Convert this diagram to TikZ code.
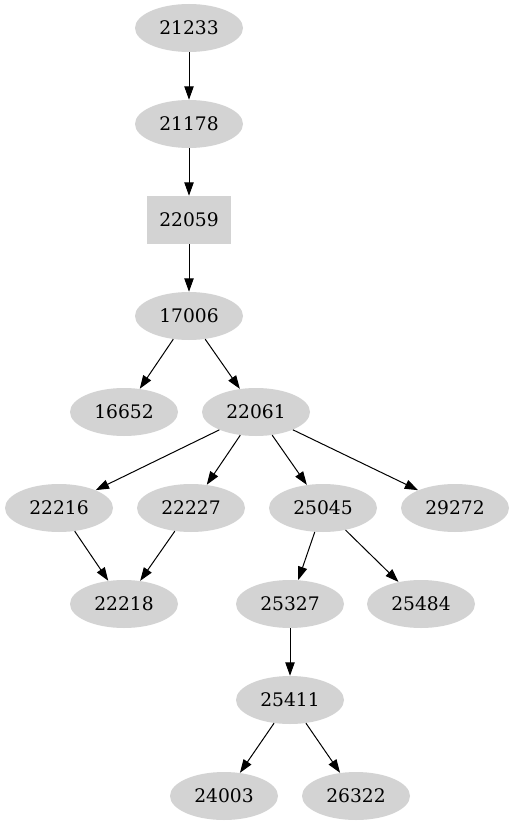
\documentclass[tikz,border=0pt]{standalone}
\usepackage{fontspec}
\setmainfont{DejaVu Serif}
\usetikzlibrary{arrows.meta,shapes.geometric}

\begin{document}
\begin{tikzpicture}[x=0.75pt,y=-0.75pt,
    vert/.style={ellipse,fill={rgb,255:red,211;green,211;blue,211},minimum width=81pt,minimum height=36pt,inner sep=0pt,font=\fontsize{14pt}{16pt}\selectfont},
    vbox/.style={vert,rectangle,minimum width=63pt},
    link/.style={line width=0.75pt,-{Triangle[length=10pt,width=7pt]}}]
      \useasboundingbox(0,0)rectangle(514,827);
      \node[vert](a21233) at (189,28){21233};
      \node[vert](a21178) at (189,124){21178};
      \node[vbox](a22059) at (189,220){22059};
      \node[vert](a17006) at (189,316){17006};
      \node[vert](a16652) at (124,412){16652};
      \node[vert](a22061) at (256,412){22061};
      \node[vert](a22216) at (59,508){22216};
      \node[vert](a22227) at (191,508){22227};
      \node[vert](a25045) at (323,508){25045};
      \node[vert](a29272) at (455,508){29272};
      \node[vert](a22218) at (124,604){22218};
      \node[vert](a25327) at (290,604){25327};
      \node[vert](a25484) at (421,604){25484};
      \node[vert](a25411) at (290,700){25411};
      \node[vert](a24003) at (224,796){24003};
      \node[vert](a26322) at (356,796){26322};

      \draw[link](a21233)--(a21178);
      \draw[link](a21178)--(a22059);
      \draw[link](a22059)--(a17006);
      \draw[link](a17006)--(a16652);
      \draw[link](a17006)--(a22061);
      \draw[link](a22061)--(a22216);
      \draw[link](a22061)--(a22227);
      \draw[link](a22061)--(a25045);
      \draw[link](a22061)--(a29272);
      \draw[link](a22216)--(a22218);
      \draw[link](a22227)--(a22218);
      \draw[link](a25045)--(a25327);
      \draw[link](a25045)--(a25484);
      \draw[link](a25327)--(a25411);
      \draw[link](a25411)--(a24003);
      \draw[link](a25411)--(a26322);
    \end{tikzpicture}
\end{document}
